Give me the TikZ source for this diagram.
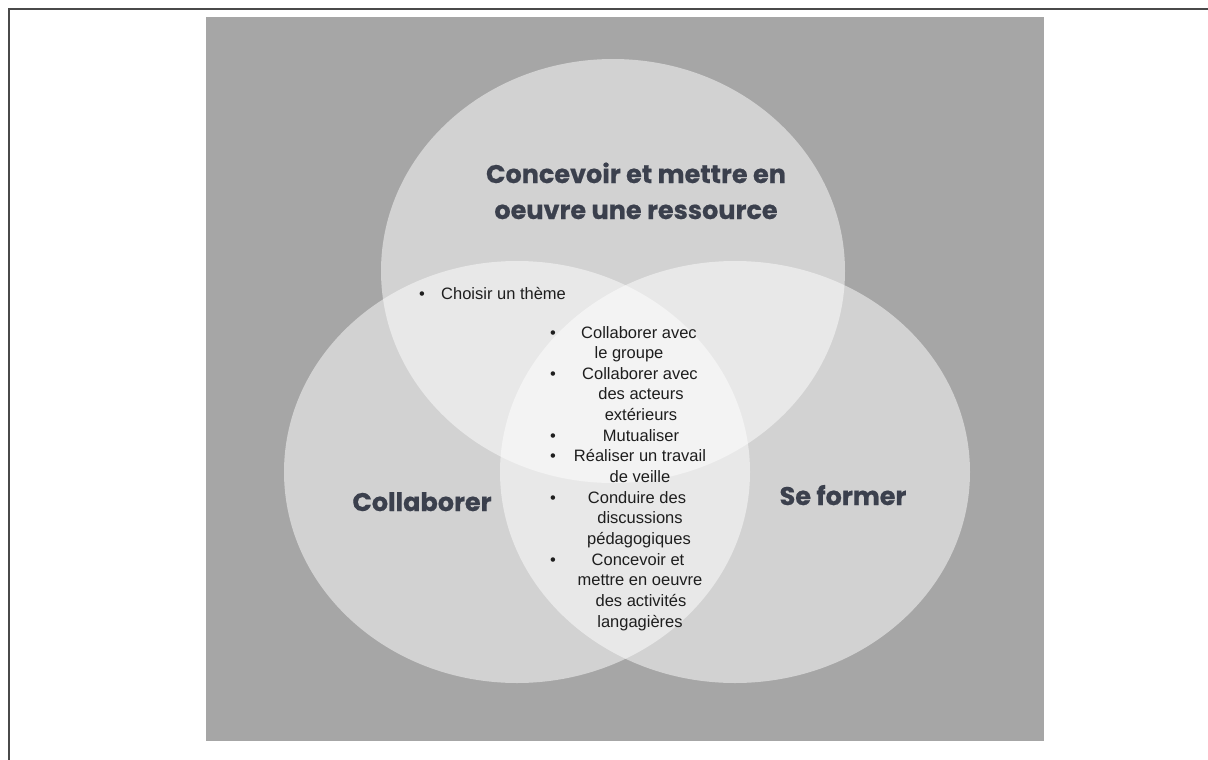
\documentclass[tikz,border=0pt]{standalone}
\usepackage{fontspec}
\setmainfont{Liberation Sans}
\newfontfamily\vennfont{Poppins}[BoldFeatures={FakeBold=0.6}]
\definecolor{backgray}{HTML}{A6A6A6}
\definecolor{framegray}{HTML}{4A4A4A}
\definecolor{titleink}{HTML}{3B404D}
\definecolor{itemink}{HTML}{1E1E1E}

\begin{document}
\begin{tikzpicture}[x=1pt,y=-1pt]
        \tikzstyle{every node}=[inner sep=0pt, text=itemink, font=\fontsize{16.5}{20}\selectfont]
        \tikzstyle{settitle}=[text=titleink, align=center, font=\vennfont\bfseries\fontsize{25.5}{36}\selectfont]
        \tikzstyle{setfill}=[fill=white, fill opacity=0.5]
        \useasboundingbox (0,0) rectangle (1208,760);
        \begin{scope}
           % frame and background
           \draw[framegray, line width=2pt] (9,760) -- (9,9) -- (1208,9);
           \fill[backgray] (206,17) rectangle (1044,741);

           % the three sets
           \fill[setfill] (613,271) ellipse (232pt and 212pt);
           \fill[setfill] (517,472) ellipse (233pt and 211pt);
           \fill[setfill] (735,472) ellipse (235pt and 211pt);

           \node[settitle, anchor=base] (ressource) at (636,219) {Concevoir et mettre en\\oeuvre une ressource};
           \node[settitle, anchor=base] (collaborer) at (422,511) {Collaborer};
           \node[settitle, anchor=base] (seformer) at (843,505) {Se former};

           % items
           \node[anchor=base] (dot-theme) at (422,299) {\textbullet};
           \node[anchor=base west] (theme) at (441,299) {Choisir un thème};

           \foreach \x/\t [count=\i from 0] in {639/Collaborer avec, 629/le groupe,
                640/Collaborer avec, 641/des acteurs, 641/extérieurs, 641/Mutualiser,
                640/Réaliser un travail, 640/de veille, 637/Conduire des, 640/discussions,
                639/pédagogiques, 638/Concevoir et, 640/mettre en oeuvre,
                641/des activités, 640/langagières}{
               \node[anchor=base] (item\i) at (\x,338+20.65*\i) {\t};
           }
           \foreach \i in {0,2,5,6,8,11}{
               \node[anchor=base] (dot\i) at (553,338+20.65*\i) {\textbullet};
           }
        \end{scope}
\end{tikzpicture}
\end{document}
